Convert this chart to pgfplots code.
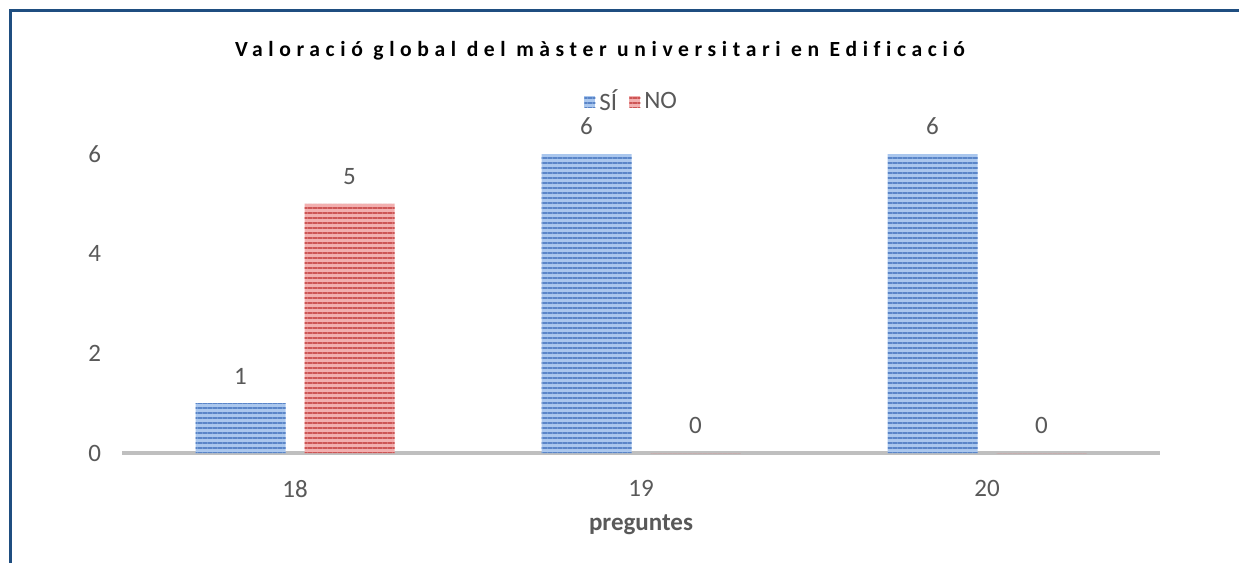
\documentclass[border=0pt]{standalone}
\usepackage{pgfplots}
\pgfplotsset{compat=1.18}
\usepackage{fontspec}
\setmainfont{Carlito}
\newfontfamily\titlefont[LetterSpace=26,Ligatures=NoCommon]{Carlito}
\usetikzlibrary{patterns.meta}
\definecolor{frameblue}{RGB}{31,78,128}
\definecolor{axgray}{RGB}{191,191,191}
\definecolor{txtgray}{RGB}{89,89,89}
\definecolor{bluebase}{RGB}{170,199,238}
\definecolor{blueline}{RGB}{90,133,200}
\definecolor{redbase}{RGB}{242,175,175}
\definecolor{redline}{RGB}{205,85,85}
\begin{document}
\begin{tikzpicture}
\path[use as bounding box] (0,0) rectangle (619.5pt,-281.5pt);
\fill[white] (0,0) rectangle (619.5pt,-281.5pt);
\draw[frameblue, line width=1.5pt] (5pt,-281.5pt) -- (5pt,-5pt) -- (619.5pt,-5pt);
\begin{axis}[
  at={(61pt,-226.5pt)}, anchor=south west,
  scale only axis, width=519pt, height=174.35pt,
  xmin=-0.5, xmax=2.5, ymin=0, ymax=7,
  axis y line*=left, axis x line*=bottom,
  y axis line style={draw=none},
  x axis line style={draw=axgray, line width=2pt, -},
  xtick={0,1,2}, xticklabels={18,19,20},
  ytick={0,2,4,6},
  major tick length=0pt,
  tick label style={font=\fontsize{12.5}{14}\selectfont, text=txtgray},
  /pgf/number format/assume math mode=true,
  yticklabel style={xshift=-7pt},
  xticklabel style={yshift=-10pt},
  xlabel={\textbf{preguntes}},
  xlabel style={font=\fontsize{12.5}{14}\selectfont, text=txtgray, yshift=-2pt},
  ybar, bar width=45pt,
  nodes near coords,
  every node near coord/.append style={font=\fontsize{12.5}{14}\selectfont, text=txtgray, yshift=6pt},
  legend style={at={(0.492,1.007)}, anchor=center, draw=none, fill=none,
    legend columns=2, font=\fontsize{12.5}{14}\selectfont, text=txtgray,
    /tikz/every even column/.append style={column sep=4pt}},
  legend image code/.code={\fill[#1] (0pt,-2.8pt) rectangle (5.5pt,2.8pt);},
  clip=false,
]
\addplot[bar shift=-27.25pt, draw=none, fill=bluebase,
  postaction={pattern={Lines[angle=0,distance=2.5pt,line width=0.9pt]}, pattern color=blueline}]
  coordinates {(0,1) (1,6) (2,6)};
\addplot[bar shift=27.25pt, draw=none, fill=redbase,
  postaction={pattern={Lines[angle=0,distance=2.5pt,line width=0.9pt]}, pattern color=redline}]
  coordinates {(0,5) (1,0) (2,0)};
\legend{SÍ, NO}
\end{axis}
\node[font=\titlefont\bfseries\fontsize{10.8}{12}\selectfont] at (300pt,-25.5pt) {Valoració global del màster universitari en Edificació};
\end{tikzpicture}
\end{document}
